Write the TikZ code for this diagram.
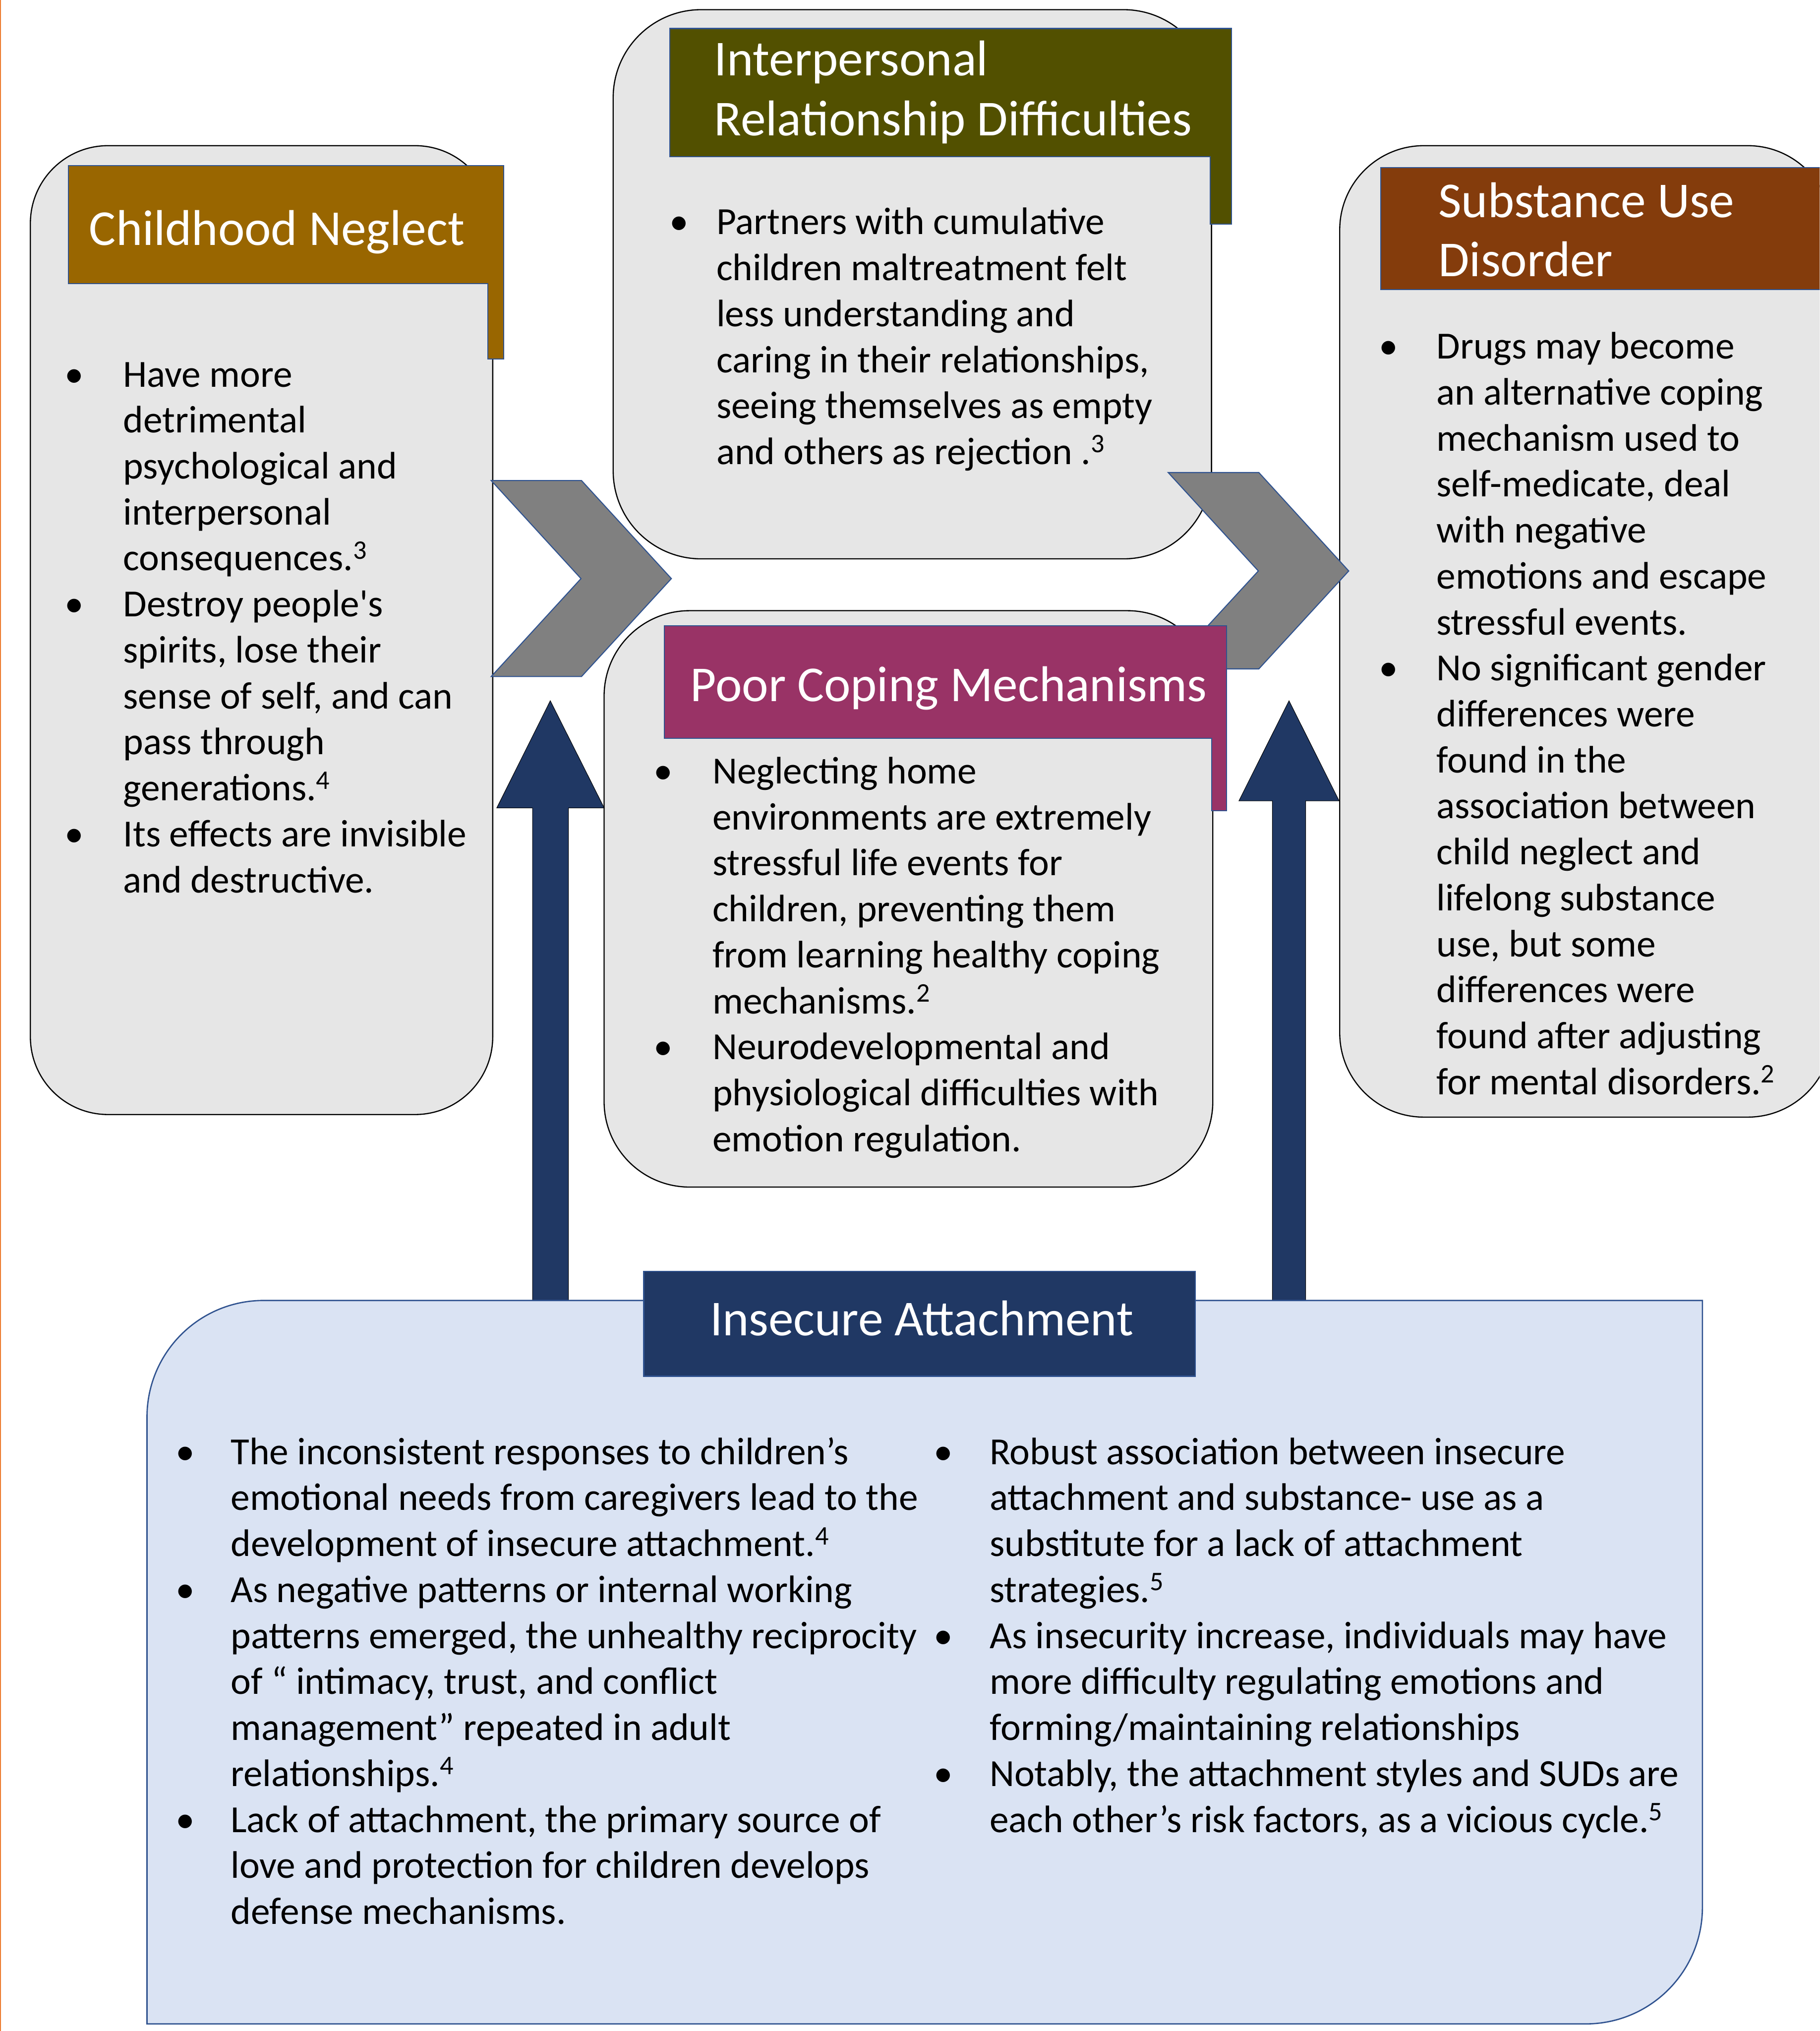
\documentclass[tikz,border=0pt]{standalone}
\usepackage{fontspec}
\setmainfont{Carlito}[Ligatures=TeXOff]

\definecolor{panelgray}{HTML}{E6E6E6}
\definecolor{edgeblue}{HTML}{2F528F}
\definecolor{neglectbar}{HTML}{996600}
\definecolor{relationbar}{HTML}{525000}
\definecolor{copingbar}{HTML}{993366}
\definecolor{substancebar}{HTML}{843C0C}
\definecolor{navybar}{HTML}{203864}
\definecolor{attachfill}{HTML}{DAE3F3}
\definecolor{chevgray}{HTML}{808080}
\definecolor{pageedge}{HTML}{ED7D31}

\newcommand{\bodyfont}{\fontsize{29.6}{35.5}\selectfont}
\newcommand{\headfont}{\fontsize{38.8}{46.4}\selectfont}
% bullet centred a given distance left of the text start
\newcommand{\bitem}[1]{\leavevmode\llap{\makebox[0pt][c]{•}\hspace{#1}}}
\newcommand{\refnum}[1]{\textsuperscript{#1}}

\begin{document}
\begin{tikzpicture}[x=1pt,y=-1pt,
  panel/.style={draw=black, line width=0.9pt, fill=panelgray, rounded corners=#1,
    rectangle, inner sep=0pt, anchor=north west},
  headbar/.style={draw=edgeblue, line width=0.8pt},
  chevronshape/.style={fill=chevgray, draw=edgeblue, line width=0.8pt},
  uparrow/.style={fill=navybar},
  bodytext/.style={anchor=base west, inner sep=0pt, text=black},
  headtext/.style={anchor=base west, inner sep=0pt, text=white}]

\useasboundingbox (0,0) rectangle (1405,1568);
\clip (0,0) rectangle (1405,1568);
\fill[white] (0,0) rectangle (1405,1568);
\draw[pageedge, line width=0.7pt] (0.5,0) -- (0.5,1568);

% rounded gray panels
\node[panel=60pt, minimum width=357pt, minimum height=748pt] (neglect) at (23,112) {};
\node[panel=68pt, minimum width=462pt, minimum height=424pt] (relation) at (473,7) {};
\node[panel=66pt, minimum width=470pt, minimum height=445pt] (coping) at (466,471) {};
\node[panel=65pt, minimum width=380pt, minimum height=750pt] (substance) at (1034,112) {};

% chevrons between the panels
\draw[chevronshape] (379.3,371) -- (449,371) -- (518.4,446.7) -- (449,522.3)
  -- (379.3,522.3) -- (448.6,446.7) -- cycle;
\draw[chevronshape] (902,364.8) -- (972,364.8) -- (1041.4,440.8) -- (972,516.4)
  -- (902,516.4) -- (971.6,440.8) -- cycle;

% upward block arrows
\draw[uparrow] (424.9,541) -- (466.5,623.7) -- (438.9,623.7) -- (438.9,1010)
  -- (411.2,1010) -- (411.2,623.7) -- (383.6,623.7) -- cycle;
\draw[uparrow] (995.3,541) -- (1034,618.3) -- (1008.2,618.3) -- (1008.2,1010)
  -- (982.4,1010) -- (982.4,618.3) -- (956.6,618.3) -- cycle;

% attachment panel with two rounded diagonal corners
\draw[fill=attachfill, draw=edgeblue, line width=1pt]
  (113.5,1562.5) -- (113.5,1094) arc[start angle=180, end angle=270, radius=90]
  -- (1314.5,1004) -- (1314.5,1472.5) arc[start angle=0, end angle=90, radius=90]
  -- cycle;

% heading bars
\draw[headbar, fill=neglectbar] (53,128) -- (389,128) -- (389,277) -- (376.6,277)
  -- (376.6,219) -- (53,219) -- cycle;
\draw[headbar, fill=relationbar] (517,22) -- (951,22) -- (951,173) -- (934.5,173)
  -- (934.5,121) -- (517,121) -- cycle;
\draw[headbar, fill=copingbar] (513,483) -- (947,483) -- (947,626) -- (935.5,626)
  -- (935.5,570) -- (513,570) -- cycle;
\draw[headbar, fill=substancebar] (1066,129.5) -- (1420,129.5) -- (1420,223.4)
  -- (1066,223.4) -- cycle;
\draw[headbar, fill=navybar, line width=1pt] (497,981.5) rectangle (923,1062.5);

% heading texts
\node[headtext] (neglectHead) at (68.7,189.3) {\headfont Childhood Neglect};
\node[headtext] (relationHead) at (551.4,58.3)
  {\parbox[t]{420pt}{\headfont\raggedright Interpersonal\\Relationship Difficulties}};
\node[headtext] (copingHead) at (533,541.5) {\headfont Poor Coping Mechanisms};
\node[headtext] (substanceHead) at (1110.5,168)
  {\parbox[t]{300pt}{\fontsize{38.8}{45.5}\selectfont\raggedright Substance Use\\Disorder}};
\node[headtext] (attachHead) at (548,1031) {\headfont Insecure Attachment};

% bullet texts
\node[bodytext] (neglectText) at (95,298.6) {\parbox[t]{330pt}{\bodyfont\raggedright
  \bitem{38pt}Have more\\
  detrimental\\
  psychological and\\
  interpersonal\\
  consequences.\refnum{3}\\
  \bitem{38pt}Destroy people's\\
  spirits, lose their\\
  sense of self, and can\\
  pass through\\
  generations.\refnum{4}\\
  \bitem{38pt}Its effects are invisible\\
  and destructive.}};

\node[bodytext] (relationText) at (553,181) {\parbox[t]{420pt}{\bodyfont\raggedright
  \bitem{29pt}Partners with cumulative\\
  children maltreatment felt\\
  less understanding and\\
  caring in their relationships,\\
  seeing themselves as empty\\
  and others as rejection .\refnum{3}}};

\node[bodytext] (copingText) at (550,605) {\parbox[t]{420pt}{\bodyfont\raggedright
  \bitem{38pt}Neglecting home\\
  environments are extremely\\
  stressful life events for\\
  children, preventing them\\
  from learning healthy coping\\
  mechanisms.\refnum{2}\\
  \bitem{38pt}Neurodevelopmental and\\
  physiological difficulties with\\
  emotion regulation.}};

\node[bodytext] (substanceText) at (1109,277) {\parbox[t]{300pt}{\bodyfont\raggedright
  \bitem{37pt}Drugs may become\\
  an alternative coping\\
  mechanism used to\\
  self-medicate, deal\\
  with negative\\
  emotions and escape\\
  stressful events.\\
  \bitem{37pt}No significant gender\\
  differences were\\
  found in the\\
  association between\\
  child neglect and\\
  lifelong substance\\
  use, but some\\
  differences were\\
  found after adjusting\\
  for mental disorders.\refnum{2}}};

\node[bodytext] (attachLeft) at (178,1130.5) {\parbox[t]{560pt}{\bodyfont\raggedright
  \bitem{35pt}The inconsistent responses to children’s\\
  emotional needs from caregivers lead to the\\
  development of insecure attachment.\refnum{4}\\
  \bitem{35pt}As negative patterns or internal working\\
  patterns emerged, the unhealthy reciprocity\\
  of “ intimacy, trust, and conflict\\
  management” repeated in adult\\
  relationships.\refnum{4}\\
  \bitem{35pt}Lack of attachment, the primary source of\\
  love and protection for children develops\\
  defense mechanisms.}};

\node[bodytext] (attachRight) at (764,1130.5) {\parbox[t]{600pt}{\bodyfont\raggedright
  \bitem{36pt}Robust association between insecure\\
  attachment and substance- use as a\\
  substitute for a lack of attachment\\
  strategies.\refnum{5}\\
  \bitem{36pt}As insecurity increase, individuals may have\\
  more difficulty regulating emotions and\\
  forming/maintaining relationships\\
  \bitem{36pt}Notably, the attachment styles and SUDs are\\
  each other’s risk factors, as a vicious cycle.\refnum{5}}};

\end{tikzpicture}
\end{document}
